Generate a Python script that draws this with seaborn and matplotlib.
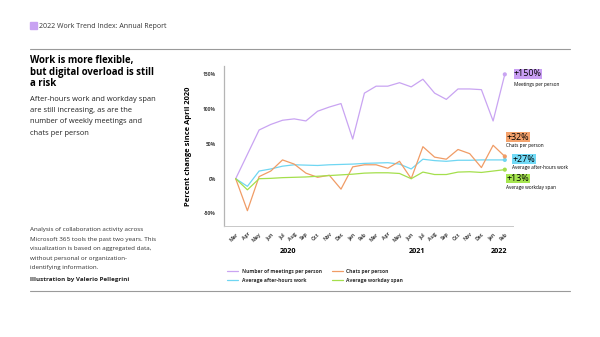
import matplotlib
matplotlib.use("Agg")
import matplotlib.pyplot as plt
import seaborn as sns
import pandas as pd

# Monthly index values (percent change), Mar 2020 – Feb 2022
months = ["Mar", "Apr", "May", "Jun", "Jul", "Aug", "Sep", "Oct", "Nov", "Dec",
          "Jan", "Feb", "Mar", "Apr", "May", "Jun", "Jul", "Aug", "Sep", "Oct",
          "Nov", "Dec", "Jan", "Feb"]
years = ["2020", "2021", "2022"]
year_centers = [4.5, 15.5, 22.5]

meetings = [0, 35, 70, 78, 84, 86, 83, 97, 103, 108, 57, 123, 133, 133, 138, 132,
            143, 123, 114, 129, 129, 128, 83, 150]
after_hours = [0, -11, 11, 14, 18, 20, 19.5, 19, 20, 20.5, 21, 22, 22.5, 23, 21, 14,
               28, 26, 25, 26.5, 26.5, 27, 27, 27]
chats = [0, -46, 3, 11, 27, 21, 8, 2, 5, -15, 17, 20, 20, 15, 25, 0,
         46, 31, 28, 42, 36, 16, 48, 32]
workday = [0, -16, 0, 0.5, 1.5, 2, 2.5, 3.5, 4.5, 5.5, 6.5, 8, 8.5, 8.5, 7.5, 0,
           9.5, 6, 6, 9.5, 10, 9, 11, 13]

series_names = ["Number of meetings per person", "Average after-hours work",
                "Chats per person", "Average workday span"]
short_names = ["Meetings per person", "Average after-hours work",
               "Chats per person", "Average workday span"]
series_values = [meetings, after_hours, chats, workday]
line_colors = ["#c9a4f2", "#6fd6f2", "#f09c66", "#a4df4c"]
box_colors = ["#c99ff4", "#72daf6", "#f4a26c", "#a6e650"]

W, H = 600, 337
sns.set_theme(style="white")
plt.rcParams["font.family"] = ["Open Sans", "DejaVu Sans"]

fig = plt.figure(figsize=(W / 100, H / 100), dpi=100, facecolor="white")


def fx(x):
    return x / W


def fy(y):
    return 1 - y / H


# page header and rules
fig.patches.append(plt.Rectangle((fx(30), fy(28.5)), 6.5 / W, 6.5 / H,
                                 transform=fig.transFigure, color="#c8a2f2"))
fig.text(fx(39), fy(28.5), "2022 Work Trend Index: Annual Report", fontsize=5.0,
         color="#333333", va="baseline")
fig.add_artist(plt.Line2D([fx(30), fx(570)], [fy(49), fy(49)], color="#9a9a9a", lw=0.8))
fig.add_artist(plt.Line2D([fx(30), fx(570)], [fy(291), fy(291)], color="#9a9a9a", lw=0.8))

# headline and description
for i, line in enumerate(["Work is more flexible,", "but digital overload is still", "a risk"]):
    fig.text(fx(30), fy(63.5 + 11 * i), line, fontsize=6.9, fontweight="bold",
             color="black", va="baseline")
for i, line in enumerate(["After-hours work and workday span", "are still increasing, as are the",
                          "number of weekly meetings and", "chats per person"]):
    fig.text(fx(30), fy(101 + 11.2 * i), line, fontsize=5.45, color="#222222", va="baseline")
for i, line in enumerate(["Analysis of collaboration activity across",
                          "Microsoft 365 tools the past two years. This",
                          "visualization is based on aggregated data,",
                          "without personal or organization-",
                          "identifying information."]):
    fig.text(fx(30), fy(231 + 9.6 * i), line, fontsize=4.5, color="#333333", va="baseline")
fig.text(fx(30), fy(281), "Illustration by Valerio Pellegrini", fontsize=4.5,
         fontweight="bold", color="#222222", va="baseline")

# chart
ax = fig.add_axes([fx(224), fy(226), (513 - 224) / W, (226 - 66) / H])
rows = []
for name, vals in zip(series_names, series_values):
    for i, v in enumerate(vals):
        rows.append({"idx": i, "value": v, "series": name})
df = pd.DataFrame(rows)

sns.lineplot(data=df, x="idx", y="value", hue="series", hue_order=series_names,
             palette=line_colors, linewidth=0.9, ax=ax)

last = df[df["idx"] == len(months) - 1]
sns.scatterplot(data=last, x="idx", y="value", hue="series", hue_order=series_names,
                palette=line_colors, s=9, linewidth=0, ax=ax, legend=False)

ax.set_xlim(-1, 23.7)
ax.set_ylim(-68, 162)
ax.set_yticks([-50, 0, 50, 100, 150])
ax.set_yticklabels([f"{v}%" for v in [-50, 0, 50, 100, 150]], fontsize=3.6,
                   fontweight="bold", color="#444444")
ax.set_xticks(range(len(months)))
ax.set_xticklabels(months, rotation=45, ha="right", rotation_mode="anchor",
                   fontsize=3.6, fontweight="bold", color="#444444")
ax.tick_params(axis="both", length=0, pad=4)
ax.tick_params(axis="y", pad=6)
for s in ["top", "right"]:
    ax.spines[s].set_visible(False)
ax.spines["left"].set_color("#b5b5b5")
ax.spines["bottom"].set_color("#c8c8c8")
ax.spines["left"].set_linewidth(0.9)
ax.spines["bottom"].set_linewidth(0.7)
ax.set_xlabel("")
ax.set_ylabel("Percent change since April 2020", fontsize=5.4, fontweight="bold",
              color="black", labelpad=8)

# year labels beneath the months
for yr, c in zip(years, year_centers):
    ax.text(c, -0.135, yr, transform=ax.get_xaxis_transform(), ha="center", va="top",
            fontsize=5.2, fontweight="bold", color="black")

# legend below the chart
sns.move_legend(ax, "upper left", bbox_to_anchor=(fx(222), fy(264)),
                bbox_transform=fig.transFigure, ncol=2, frameon=False, title=None,
                fontsize=3.6, handlelength=2.2, handletextpad=0.8, columnspacing=2.0,
                labelspacing=0.9)
for t in ax.get_legend().get_texts():
    t.set_fontweight("bold")
    t.set_color("#333333")

# end-of-line value callouts: (left x, value baseline, caption baseline)
callouts = [(514, 76.5, 85.5), (512.5, 161.5, 169.5), (506.5, 139.5, 147.5),
            (506.5, 181, 189.5)]
for k in range(4):
    x0, yb, ys = callouts[k]
    val = series_values[k][-1]
    fig.text(fx(x0), fy(yb), f"+{val}%", fontsize=6.4, color="black", va="baseline",
             bbox=dict(boxstyle="square,pad=0.05", fc=box_colors[k], ec="none"))
    fig.text(fx(x0), fy(ys), short_names[k], fontsize=3.4, color="black", va="baseline")

fig.savefig("out.png", dpi=100, facecolor="white")
